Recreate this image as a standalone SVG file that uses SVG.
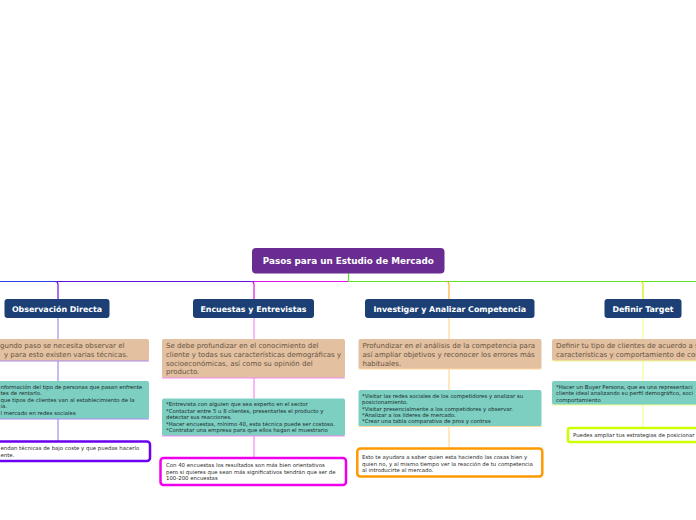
<svg xmlns="http://www.w3.org/2000/svg" width="696" height="520" viewBox="0 0 696 520">
<style>
.root{fill:#692c90}
.l1{fill:#1c3f75}
.beige{fill:#e3c09f}
.teal{fill:#7dcfc2}
.wb{fill:#ffffff;stroke-width:2.5}
.t1{font-family:"DejaVu Sans",Verdana,sans-serif;font-weight:bold;font-size:7.9px;fill:#ffffff;text-anchor:middle}
.tr{font-family:"DejaVu Sans",Verdana,sans-serif;font-weight:bold;font-size:8.8px;fill:#ffffff;text-anchor:middle}
.tb{font-family:"DejaVu Sans",Verdana,sans-serif;font-size:7px;fill:#665545}
.tt{font-family:"DejaVu Sans",Verdana,sans-serif;font-size:5.4px;fill:#1a2c2c}
.tw{font-family:"DejaVu Sans",Verdana,sans-serif;font-size:5.4px;fill:#2a2a2a}
.c{fill:none;stroke-width:1.2}
</style>
<g id="connectors">
<line x1="0" y1="281.5" x2="58" y2="281.5" stroke="#2a3cf0" class="c"/>
<line x1="58" y1="281.5" x2="254" y2="281.5" stroke="#5a10e0" class="c"/>
<line x1="254" y1="281.5" x2="348.5" y2="281.5" stroke="#e010e8" class="c"/>
<line x1="348.5" y1="281.5" x2="696" y2="281.5" stroke="#5ee52a" class="c"/>
<line x1="348.5" y1="273" x2="348.5" y2="281.5" stroke="#5ee52a" class="c"/>
<path d="M55 281.5 Q58 281.5 58 284.5 V299" stroke="#7010e8" class="c"/>
<path d="M251 281.5 Q254 281.5 254 284.5 V299" stroke="#e010e8" class="c"/>
<path d="M446 281.5 Q449 281.5 449 284.5 V299" stroke="#ffb030" class="c"/>
<path d="M640 281.5 Q643 281.5 643 284.5 V299" stroke="#ccf000" class="c"/>
<path d="M58 318 V339 M58 361 V381 M58 419 V441" stroke="#a98cf0" class="c"/>
<path d="M254 318 V339 M254 378 V398.5 M254 436 V457" stroke="#f08cf0" class="c"/>
<path d="M449 318 V339 M449 369 V390 M449 426.5 V447" stroke="#ffd79a" class="c"/>
<path d="M643 318 V339 M643 361 V381 M643 405 V427" stroke="#f0ff90" class="c"/>
</g>
<g id="root">
<rect class="root" x="252" y="248" width="192.5" height="25.5" rx="4"/>
<text class="tr" x="348.3" y="264.2">Pasos para un Estudio de Mercado</text>
</g>
<g id="observacion">
<rect class="l1" x="4.5" y="299" width="105" height="19" rx="3"/>
<text class="t1" x="57" y="311.6">Observación Directa</text>
</g>
<g id="observacion-desc">
<rect class="beige" x="-5" y="339" width="154" height="22" rx="2"/>
<line x1="-5" y1="361" x2="149" y2="361" stroke="#a98cf0" stroke-width="1"/>
<text class="tb" x="0" y="348.2">gundo paso se necesita observar el</text>
<text class="tb" x="4" y="357">y para esto existen varias técnicas.</text>
</g>
<g id="observacion-tecnicas">
<rect class="teal" x="-5" y="381" width="154" height="38" rx="2"/>
<line x1="-5" y1="419" x2="149" y2="419" stroke="#a98cf0" stroke-width="1"/>
<text class="tt" x="0.5" y="388.6">nformación del tipo de personas que pasan enfrente</text>
<text class="tt" x="0.5" y="395">tes de rentarlo.</text>
<text class="tt" x="0.5" y="401.8">que tipos de clientes van al establecimiento de la</text>
<text class="tt" x="0.5" y="408">ia.</text>
<text class="tt" x="0.5" y="414.8">l mercado en redes sociales</text>
</g>
<g id="observacion-nota">
<rect class="wb" x="-5" y="441.5" width="155" height="19.5" rx="3" stroke="#6a00ee"/>
<text class="tw" x="0.5" y="450">endan técnicas de bajo coste y que puedas hacerlo</text>
<text class="tw" x="0.5" y="457">ente.</text>
</g>
<g id="encuestas">
<rect class="l1" x="193" y="299" width="121" height="19" rx="3"/>
<text class="t1" x="253.5" y="311.6">Encuestas y Entrevistas</text>
</g>
<g id="encuestas-desc">
<rect class="beige" x="162" y="339" width="183" height="39" rx="2"/>
<line x1="162" y1="378" x2="345" y2="378" stroke="#f08cf0" stroke-width="1"/>
<text class="tb" x="166" y="348.2">Se debe profundizar en el conocimiento del</text>
<text class="tb" x="166" y="356.8">cliente y todas sus características demográficas y</text>
<text class="tb" x="166" y="365.5">socioeconómicas, así como su opinión del</text>
<text class="tb" x="166" y="374.2">producto.</text>
</g>
<g id="encuestas-tecnicas">
<rect class="teal" x="162" y="398.5" width="183" height="37.5" rx="2"/>
<line x1="162" y1="436" x2="345" y2="436" stroke="#f08cf0" stroke-width="1"/>
<text class="tt" x="166" y="405.5">*Entrevista con alguien que sea experto en el sector</text>
<text class="tt" x="166" y="412.5">*Contactar entre 5 u 8 clientes, presentarles el producto y</text>
<text class="tt" x="166" y="418.8">detectar sus reacciones.</text>
<text class="tt" x="166" y="425.8">*Hacer encuestas, mínimo 40, esta técnica puede ser costosa.</text>
<text class="tt" x="166" y="432">*Contratar una empresa para que ellos hagan el muestrario</text>
</g>
<g id="encuestas-nota">
<rect class="wb" x="160.5" y="458" width="185.5" height="27" rx="3" stroke="#ee00ee"/>
<text class="tw" x="166" y="467">Con 40 encuestas los resultados son más bien orientativos</text>
<text class="tw" x="166" y="473.6">pero si quieres que sean más significativos tendrán que ser de</text>
<text class="tw" x="166" y="480.2">100-200 encuestas</text>
</g>
<g id="investigar">
<rect class="l1" x="365" y="299" width="169.5" height="19" rx="3"/>
<text class="t1" x="449.7" y="311.6">Investigar y Analizar Competencia</text>
</g>
<g id="investigar-desc">
<rect class="beige" x="358.5" y="339" width="183" height="30" rx="2"/>
<line x1="358.5" y1="369" x2="541.5" y2="369" stroke="#ffd79a" stroke-width="1"/>
<text class="tb" x="362.5" y="348.2">Profundizar en el análisis de la competencia para</text>
<text class="tb" x="362.5" y="357">así ampliar objetivos y reconocer los errores más</text>
<text class="tb" x="362.5" y="365.5">habituales.</text>
</g>
<g id="investigar-tecnicas">
<rect class="teal" x="358.5" y="390" width="183" height="36.5" rx="2"/>
<line x1="358.5" y1="426.5" x2="541.5" y2="426.5" stroke="#ffd79a" stroke-width="1"/>
<text class="tt" x="362" y="397.9">*Visitar las redes sociales de los competidores y analizar su</text>
<text class="tt" x="362" y="403.7">posicionamiento.</text>
<text class="tt" x="362" y="410.7">*Visitar presencialmente a los competidores y observar.</text>
<text class="tt" x="362" y="416.9">*Analizar a los líderes de mercado.</text>
<text class="tt" x="362" y="423.2">*Crear una tabla comparativa de pros y contras</text>
</g>
<g id="investigar-nota">
<rect class="wb" x="357.3" y="448.5" width="185" height="28" rx="3" stroke="#ff9900"/>
<text class="tw" x="362" y="458.9">Esto te ayudara a saber quien esta haciendo las cosas bien y</text>
<text class="tw" x="362" y="465.6">quien no, y al mismo tiempo ver la reacción de tu competencia</text>
<text class="tw" x="362" y="472.2">al introducirte al mercado.</text>
</g>
<g id="definir">
<rect class="l1" x="604.5" y="299" width="77" height="19" rx="3"/>
<text class="t1" x="643" y="311.6">Definir Target</text>
</g>
<g id="definir-desc">
<rect class="beige" x="552" y="339" width="150" height="22" rx="2"/>
<line x1="552" y1="361" x2="702" y2="361" stroke="#f0ff90" stroke-width="1"/>
<text class="tb" x="556" y="348.2">Definir tu tipo de clientes de acuerdo a s</text>
<text class="tb" x="556" y="356.8">características y comportamiento de con</text>
</g>
<g id="definir-tecnicas">
<rect class="teal" x="552" y="381" width="150" height="24" rx="2"/>
<line x1="552" y1="405" x2="702" y2="405" stroke="#f0ff90" stroke-width="1"/>
<text class="tt" x="556" y="388.5">*Hacer un Buyer Persona, que es una representaci</text>
<text class="tt" x="556" y="394.6">cliente ideal analizando su perfil demográfico, soci</text>
<text class="tt" x="556" y="402">comportamiento</text>
</g>
<g id="definir-nota">
<rect class="wb" x="568" y="428" width="140" height="14" rx="2" stroke="#ccff00"/>
<text class="tw" x="573" y="437">Puedes ampliar tus estrategias de posicionar</text>
</g>
</svg>
